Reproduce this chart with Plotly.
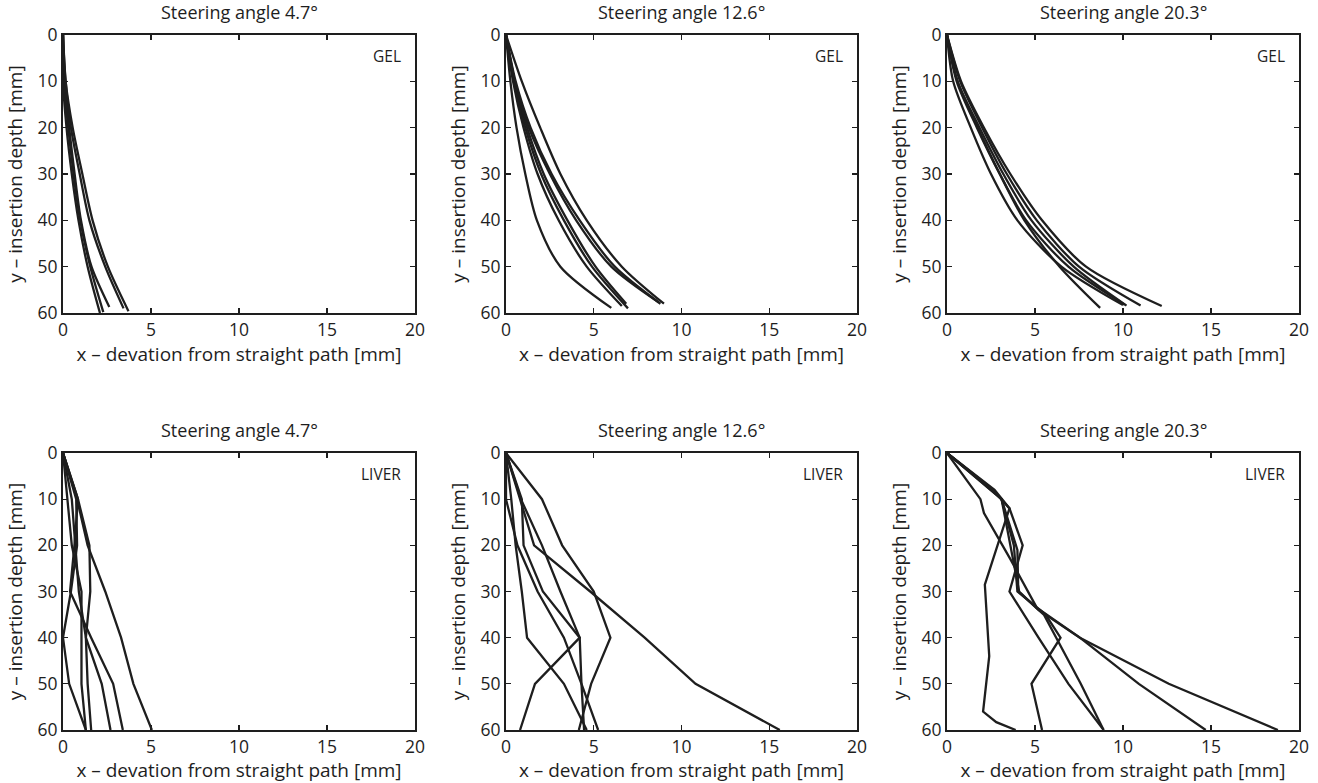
import plotly.graph_objects as go

# ---------------- data ----------------
panel_titles = ["Steering angle 4.7°", "Steering angle 12.6°", "Steering angle 20.3°",
                "Steering angle 4.7°", "Steering angle 12.6°", "Steering angle 20.3°"]
panel_labels = ["GEL", "GEL", "GEL", "LIVER", "LIVER", "LIVER"]
x_title = "x – devation from straight path [mm]"
y_title = "y – insertion depth [mm]"
x_ticks = [0, 5, 10, 15, 20]
y_ticks = [0, 10, 20, 30, 40, 50, 60]

# GEL, 4.7 deg
gel_47_x = [
    [0, 0, 0.2, 0.5, 0.88, 1.4, 2.1],
    [0, 0.05, 0.3, 0.6, 0.98, 1.55, 2.29],
    [0, 0.1, 0.35, 0.66, 1.02, 1.62, 2.63],
    [0, 0.15, 0.45, 0.95, 1.5, 2.4, 3.44],
    [0, 0.15, 0.55, 1.1, 1.68, 2.55, 3.72],
]
gel_47_y = [
    [0, 10, 20, 30, 40, 50, 60],
    [0, 10, 20, 30, 40, 50, 59.8],
    [0, 10, 20, 30, 40, 50, 58.7],
    [0, 10, 20, 30, 40, 50, 59],
    [0, 10, 20, 30, 40, 50, 59.6],
]

# GEL, 12.6 deg
gel_126_x = [
    [0, 0.25, 0.6, 1.1, 1.76, 3.1, 6.0],
    [0, 0.4, 1.0, 1.8, 3.0, 4.6, 6.6],
    [0, 0.45, 1.1, 2.0, 3.3, 4.9, 6.95],
    [0, 0.5, 1.2, 2.15, 3.5, 5.1, 6.85],
    [0, 0.5, 1.3, 2.5, 4.0, 6.0, 8.7],
    [0, 0.55, 1.4, 2.6, 4.2, 6.2, 8.8],
    [0, 0.9, 1.95, 3.1, 4.6, 6.6, 9.0],
]
gel_126_y = [
    [0, 10, 20, 30, 40, 50, 58.9],
    [0, 10, 20, 30, 40, 50, 58.5],
    [0, 10, 20, 30, 40, 50, 59],
    [0, 10, 20, 30, 40, 50, 58],
    [0, 10, 20, 30, 40, 50, 57.7],
    [0, 10, 20, 30, 40, 50, 58],
    [0, 10, 20, 30, 40, 50, 58],
]

# GEL, 20.3 deg
gel_203_x = [
    [0, 0.6, 1.75, 3.0, 4.4, 6.4, 8.7],
    [0, 0.55, 1.7, 3.0, 4.5, 6.9, 10.1],
    [0, 0.6, 1.85, 3.2, 4.8, 7.2, 10.2],
    [0, 0.75, 2.0, 3.4, 5.1, 7.5, 11.0],
    [0, 0.8, 2.1, 3.6, 5.4, 7.9, 12.2],
    [0, 0.35, 1.35, 2.5, 4.0, 6.5, 10.0],
]
gel_203_y = [
    [0, 10, 20, 30, 40, 50, 58.9],
    [0, 10, 20, 30, 40, 50, 58.2],
    [0, 10, 20, 30, 40, 50, 58.4],
    [0, 10, 20, 30, 40, 50, 58.4],
    [0, 10, 20, 30, 40, 50, 58.5],
    [0, 10, 20, 30, 40, 50, 58.3],
]

# LIVER, 4.7 deg
liver_47_x = [
    [0, 0.8, 1.4, 2.4, 3.3, 4.0, 5.05],
    [0, 0.85, 0.65, 0.4, 1.6, 2.85, 3.4],
    [0, 0.5, 0.7, 0.9, 1.3, 2.2, 2.7],
    [0, 0.85, 1.5, 1.55, 1.3, 1.4, 1.6],
    [0, 0.75, 0.8, 0.45, 0, 0.35, 1.3],
    [0, 0.25, 0.5, 1.05, 1.05, 1.05, 1.3],
]
liver_47_y = [
    [0, 10, 20, 30, 40, 50, 60],
    [0, 10, 20, 30, 40, 50, 60],
    [0, 10, 20, 30, 40, 50, 60],
    [0, 10, 20, 30, 40, 50, 60],
    [0, 10, 20, 30, 40, 50, 60],
    [0, 10, 20, 30, 40, 50, 60],
]

# LIVER, 12.6 deg
liver_126_x = [
    [0, 2.05, 3.2, 5.0, 5.95, 4.85, 4.15],
    [0, 0.8, 1.6, 4.8, 7.9, 10.8, 15.6],
    [0, 0.85, 2.05, 3.1, 4.2, 1.65, 0.8],
    [0, 0, 0.65, 1.8, 3.3, 4.3, 5.25],
    [0, 0.3, 0.55, 0.9, 1.2, 3.3, 4.6],
    [0, 0.9, 1.0, 2.1, 4.2, 4.3, 4.45],
]
liver_126_y = [
    [0, 10, 20, 30, 40, 50, 60],
    [0, 10, 20, 30, 40, 50, 60],
    [0, 10, 20, 30, 40, 50, 60],
    [0, 10, 20, 30, 40, 50, 60],
    [0, 10, 20, 30, 40, 50, 60],
    [0, 10, 20, 30, 40, 50, 60],
]

# LIVER, 20.3 deg
liver_203_x = [
    [0, 2.6, 3.1, 3.6, 4.1, 5.2, 7.55, 12.6, 18.8],
    [0, 1.9, 2.1, 3.6, 5.1, 7.55, 10.9, 14.7],
    [0, 2.7, 3.55, 4.3, 3.55, 5.2, 6.9, 8.9],
    [0, 3.1, 3.8, 4.0, 5.6, 6.45, 4.8, 5.4],
    [0, 2.5, 3.1, 4.0, 4.05, 5.5, 6.2, 7.6, 8.9],
    [0, 2.6, 3.55, 2.15, 2.4, 2.05, 2.8, 3.9],
]
liver_203_y = [
    [0, 8, 10, 20, 30, 34, 40, 50, 60],
    [0, 10, 13, 23, 33.5, 40, 50, 60],
    [0, 8, 12, 20, 30, 40, 50, 60],
    [0, 10, 20, 30, 35, 40, 50, 60],
    [0, 8, 10, 21, 30, 35, 40, 50, 60],
    [0, 8, 12, 28.5, 44, 56, 58.3, 60],
]

panels = [
    (gel_47_x, gel_47_y, "spline"),
    (gel_126_x, gel_126_y, "spline"),
    (gel_203_x, gel_203_y, "spline"),
    (liver_47_x, liver_47_y, "linear"),
    (liver_126_x, liver_126_y, "linear"),
    (liver_203_x, liver_203_y, "linear"),
]

# ---------------- layout geometry ----------------
W, H = 1318, 783
col_px = [(63, 415), (506, 857), (947, 1299)]
row_px = [(35, 313), (453, 730)]

FONT = "Open Sans, Lato, sans-serif"
INK = "#1e1e1e"

fig = go.Figure()
layout = dict(
    width=W, height=H,
    margin=dict(l=0, r=0, t=0, b=0, autoexpand=False),
    paper_bgcolor="white", plot_bgcolor="white",
    showlegend=False,
    font=dict(family=FONT, color=INK, size=16),
)
annotations = []

for i, (xs, ys, shape) in enumerate(panels):
    r, c = divmod(i, 3)
    n = i + 1
    xa = "x" if n == 1 else f"x{n}"
    ya = "y" if n == 1 else f"y{n}"
    for xv, yv in zip(xs, ys):
        fig.add_trace(go.Scatter(
            x=xv, y=yv, mode="lines",
            line=dict(color=INK, width=2.3, shape=shape, smoothing=0.8),
            xaxis=xa, yaxis=ya, hoverinfo="skip",
        ))
    x0, x1 = col_px[c]
    y0, y1 = row_px[r]
    xdom = [x0 / W, x1 / W]
    ydom = [1 - y1 / H, 1 - y0 / H]
    axis_common = dict(
        showline=True, linewidth=2, linecolor=INK, mirror="ticks",
        ticks="inside", ticklen=5, tickwidth=1.2, tickcolor=INK,
        showgrid=False, zeroline=False, automargin=False,
        tickfont=dict(family=FONT, size=17.5, color=INK),
        title_font=dict(family=FONT, size=19, color=INK),
    )
    layout["xaxis" if n == 1 else f"xaxis{n}"] = dict(
        axis_common, domain=xdom, range=[0, 20], tickvals=x_ticks,
        anchor=ya, title=dict(text=x_title, standoff=7),
    )
    layout["yaxis" if n == 1 else f"yaxis{n}"] = dict(
        axis_common, domain=ydom, range=[60, 0], tickvals=y_ticks,
        anchor=xa, title=dict(text=y_title, standoff=10),
    )
    annotations.append(dict(
        text=panel_titles[i], xref="paper", yref="paper",
        x=(xdom[0] + xdom[1]) / 2, y=ydom[1], xanchor="center", yanchor="bottom",
        yshift=9, showarrow=False, font=dict(family=FONT, size=18, color=INK),
    ))
    annotations.append(dict(
        text=panel_labels[i], xref=xa, yref=ya, x=19.3, y=4.5,
        xanchor="right", yanchor="middle", showarrow=False,
        font=dict(family=FONT, size=15.5, color=INK),
    ))

layout["annotations"] = annotations
fig.update_layout(**layout)
fig.write_html(
    "out.html",
    config={"displayModeBar": False, "staticPlot": True},
    post_script="document.body.style.margin='0px';document.body.style.overflow='hidden';",
)
